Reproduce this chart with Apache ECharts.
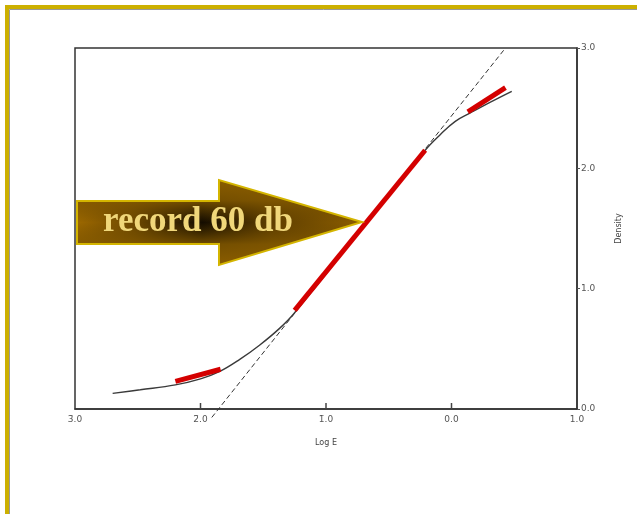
<!DOCTYPE html>
<html><head><meta charset="utf-8">
<script src="https://cdn.jsdelivr.net/npm/echarts@6/dist/echarts.min.js"></script>
<style>html,body{margin:0;padding:0;background:#fff}#c{width:637px;height:514px}</style>
</head><body><div id="c"></div>
<script>
// Characteristic (H&D) curve: Log E vs Density
var xTickValues = [-3, -2, -1, 0, 1];
var xTickLabels = ['3\u0304.0', '2\u0304.0', '1\u0304.0', '0.0', '1.0'];
var yTickLabels = ['0.0', '1.0', '2.0', '3.0'];
var innerTickValues = [-2, -1, 0];

var curveLogE    = [-2.70, -2.48, -2.20, -2.00, -1.85, -1.69, -1.53, -1.37, -1.25, -0.21, -0.09, 0.03, 0.15, 0.31, 0.48];
var curveDensity = [0.13, 0.16, 0.20, 0.25, 0.31, 0.41, 0.53, 0.67, 0.80, 2.15, 2.28, 2.39, 2.46, 2.55, 2.64];

var dashLogE    = [-1.91, 0.43];
var dashDensity = [-0.07, 3.0];

var red1LogE = [-2.20, -1.84], red1Density = [0.23, 0.33];
var red2LogE = [-1.25, -0.21], red2Density = [0.82, 2.15];
var red3LogE = [0.13, 0.43],   red3Density = [2.47, 2.67];

var arrowText = 'record 60 db';

function pairs(xs, ys) { return xs.map(function (x, i) { return [x, ys[i]]; }); }

var chart = echarts.init(document.getElementById('c'), null, { renderer: 'canvas' });
var labelStyle = { color: '#555', fontSize: 9, fontFamily: 'DejaVu Sans' };

function redSeries(xs, ys) {
  return { type: 'line', data: pairs(xs, ys), symbol: 'none', silent: true,
           lineStyle: { color: '#d40000', width: 5 }, z: 5 };
}

var arrowPts = [[77, 201], [219, 201], [219, 180], [362, 222], [219, 265], [219, 244], [77, 244]];

chart.setOption({
  animation: false,
  backgroundColor: '#fff',
  grid: { left: 75, right: 60, top: 48, bottom: 105, show: true, borderColor: '#333', borderWidth: 1.5 },
  xAxis: {
    type: 'value', min: -3, max: 1, interval: 1,
    name: 'Log E', nameLocation: 'middle', nameGap: 30,
    nameTextStyle: { color: '#444', fontSize: 8, fontFamily: 'DejaVu Sans' },
    axisLine: { show: true, onZero: false, lineStyle: { color: '#333', width: 1.5 } },
    axisTick: { show: false },
    axisLabel: Object.assign({ margin: 6, formatter: function (v) {
      var i = xTickValues.indexOf(Math.round(v)); return i >= 0 ? xTickLabels[i] : ''; } }, labelStyle),
    splitLine: { show: false }
  },
  yAxis: {
    type: 'value', position: 'right', min: 0, max: 3, interval: 1,
    name: 'Density', nameLocation: 'middle', nameGap: 38, nameRotate: 90,
    nameTextStyle: { color: '#444', fontSize: 8, fontFamily: 'DejaVu Sans' },
    axisLine: { show: true, onZero: false, lineStyle: { color: '#333', width: 1.5 } },
    axisTick: { show: true, inside: false, length: 3, lineStyle: { color: '#555' } },
    axisLabel: Object.assign({ margin: 4, formatter: function (v) {
      return yTickLabels[Math.round(v)] || ''; } }, labelStyle),
    splitLine: { show: false }
  },
  series: [
    { type: 'line', data: pairs(curveLogE, curveDensity), smooth: 0.4, symbol: 'none', silent: true,
      lineStyle: { color: '#3a3a3a', width: 1.4 }, z: 3 },
    { type: 'line', data: pairs(dashLogE, dashDensity), symbol: 'none', silent: true, clip: false,
      lineStyle: { color: '#333', width: 1, type: [5, 3] }, z: 2 },
    redSeries(red1LogE, red1Density),
    redSeries(red2LogE, red2Density),
    redSeries(red3LogE, red3Density),
    { type: 'scatter', silent: true, clip: false, z: 6,
      data: innerTickValues.map(function (v) { return [v, 0]; }),
      symbol: 'rect', symbolSize: [1.5, 6], symbolOffset: [0, -3],
      itemStyle: { color: '#444', opacity: 1 } }
  ],
  graphic: [
    { type: 'rect', shape: { x: 5, y: 5, width: 640, height: 4 }, style: { fill: '#ccb000' }, z: 100 },
    { type: 'rect', shape: { x: 5, y: 5, width: 4, height: 520 }, style: { fill: '#ccb000' }, z: 100 },
    { type: 'line', shape: { x1: 9.5, y1: 9.5, x2: 640, y2: 9.5 }, style: { stroke: '#999', lineWidth: 1 }, z: 100 },
    { type: 'line', shape: { x1: 9.5, y1: 9.5, x2: 9.5, y2: 520 }, style: { stroke: '#999', lineWidth: 1 }, z: 100 },
    { type: 'polygon', z: 50, shape: { points: arrowPts },
      style: {
        fill: { type: 'linear', x: 0, y: 0, x2: 1, y2: 0,
                colorStops: [{ offset: 0, color: '#9c6800' }, { offset: 0.2, color: '#6e4900' },
                             { offset: 0.44, color: '#140c00' }, { offset: 0.68, color: '#5e3e00' },
                             { offset: 1, color: '#8c5e00' }] }
      } },
    { type: 'polygon', z: 51, shape: { points: arrowPts },
      style: {
        fill: { type: 'linear', x: 0, y: 0, x2: 0, y2: 1,
                colorStops: [{ offset: 0, color: 'rgba(140,94,0,1)' }, { offset: 0.25, color: 'rgba(130,88,0,0.85)' },
                             { offset: 0.5, color: 'rgba(110,74,0,0)' }, { offset: 0.75, color: 'rgba(130,88,0,0.85)' },
                             { offset: 1, color: 'rgba(140,94,0,1)' }] },
        stroke: '#d4b500', lineWidth: 2
      } },
    { type: 'text', z: 52, x: 103, y: 222,
      style: { text: arrowText, fill: '#f0d77a', verticalAlign: 'middle',
               font: 'bold 35px "Liberation Serif", "DejaVu Serif", serif' } }
  ]
});
</script></body></html>
